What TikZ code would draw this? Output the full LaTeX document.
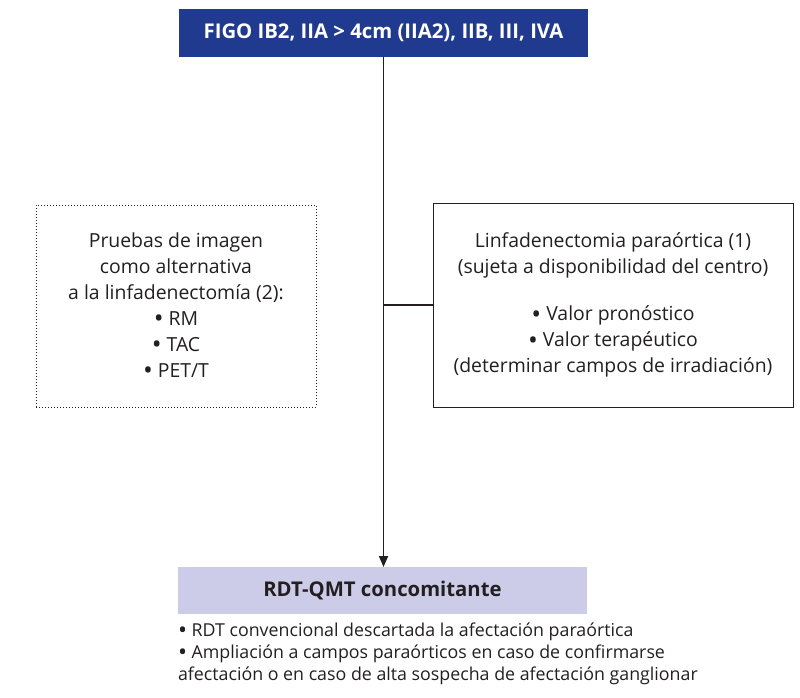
\documentclass[tikz,border=0pt]{standalone}
\usepackage{fontspec}
\setmainfont{Open Sans}
\usetikzlibrary{arrows.meta}
\definecolor{figoblue}{RGB}{31,58,143}
\definecolor{lav}{RGB}{204,204,232}
\definecolor{ink}{RGB}{35,31,32}
\newcommand\bulmark{\raisebox{-0.13em}{\scalebox{1.35}{•}}}
\tikzset{
  every node/.style={inner sep=0pt, outer sep=0pt, text=ink},
  topbox/.style={fill=figoblue, draw=none, minimum width=409pt, minimum height=48pt, text=white, font=\fontsize{20.3}{24}\selectfont\bfseries},
  botbox/.style={fill=lav, draw=none, minimum width=409pt, minimum height=47pt, font=\fontsize{20.3}{24}\selectfont\bfseries},
  sidebox/.style={draw=ink, line width=1pt, align=center, font=\fontsize{19.4}{26}\selectfont},
  conn/.style={draw=ink, line width=1.8pt},
}
\begin{document}
\begin{tikzpicture}[x=1pt,y=-1pt]
\useasboundingbox (0,0) rectangle (800,698);
\node[topbox] (top) at (383.5,33) {FIGO IB2, IIA > 4cm (IIA2), IIB, III, IVA};
\node[sidebox, dotted, minimum width=280pt, minimum height=202pt] (left) at (176,306)
  {Pruebas de imagen\\como alternativa\\a la linfadenectomía (2):\\\bulmark{} RM\\\bulmark{} TAC\\\bulmark{} PET/T};
\node[sidebox, minimum width=360pt, minimum height=204pt] (right) at (613,305)
  {Linfadenectomia paraórtica (1)\\(sujeta a disponibilidad del centro)\\[21pt]\bulmark{} Valor pronóstico\\\bulmark{} Valor terapéutico\\(determinar campos de irradiación)};
\node[botbox] (bot) at (382.5,590.5) {RDT-QMT concomitante};
\node[anchor=north west, align=left, font=\fontsize{17.8}{22}\selectfont] (notes) at (178,623)
  {\bulmark{} RDT convencional descartada la afectación paraórtica\\
   \bulmark{} Ampliación a campos paraórticos en caso de confirmarse\\
   afectación o en caso de alta sospecha de afectación ganglionar};
\draw[conn, -{Triangle[length=11pt,width=9pt]}] (top.south) -- (top.south |- bot.north);
\draw[conn] (right.west) -- (right.west -| top.south);
\end{tikzpicture}
\end{document}
